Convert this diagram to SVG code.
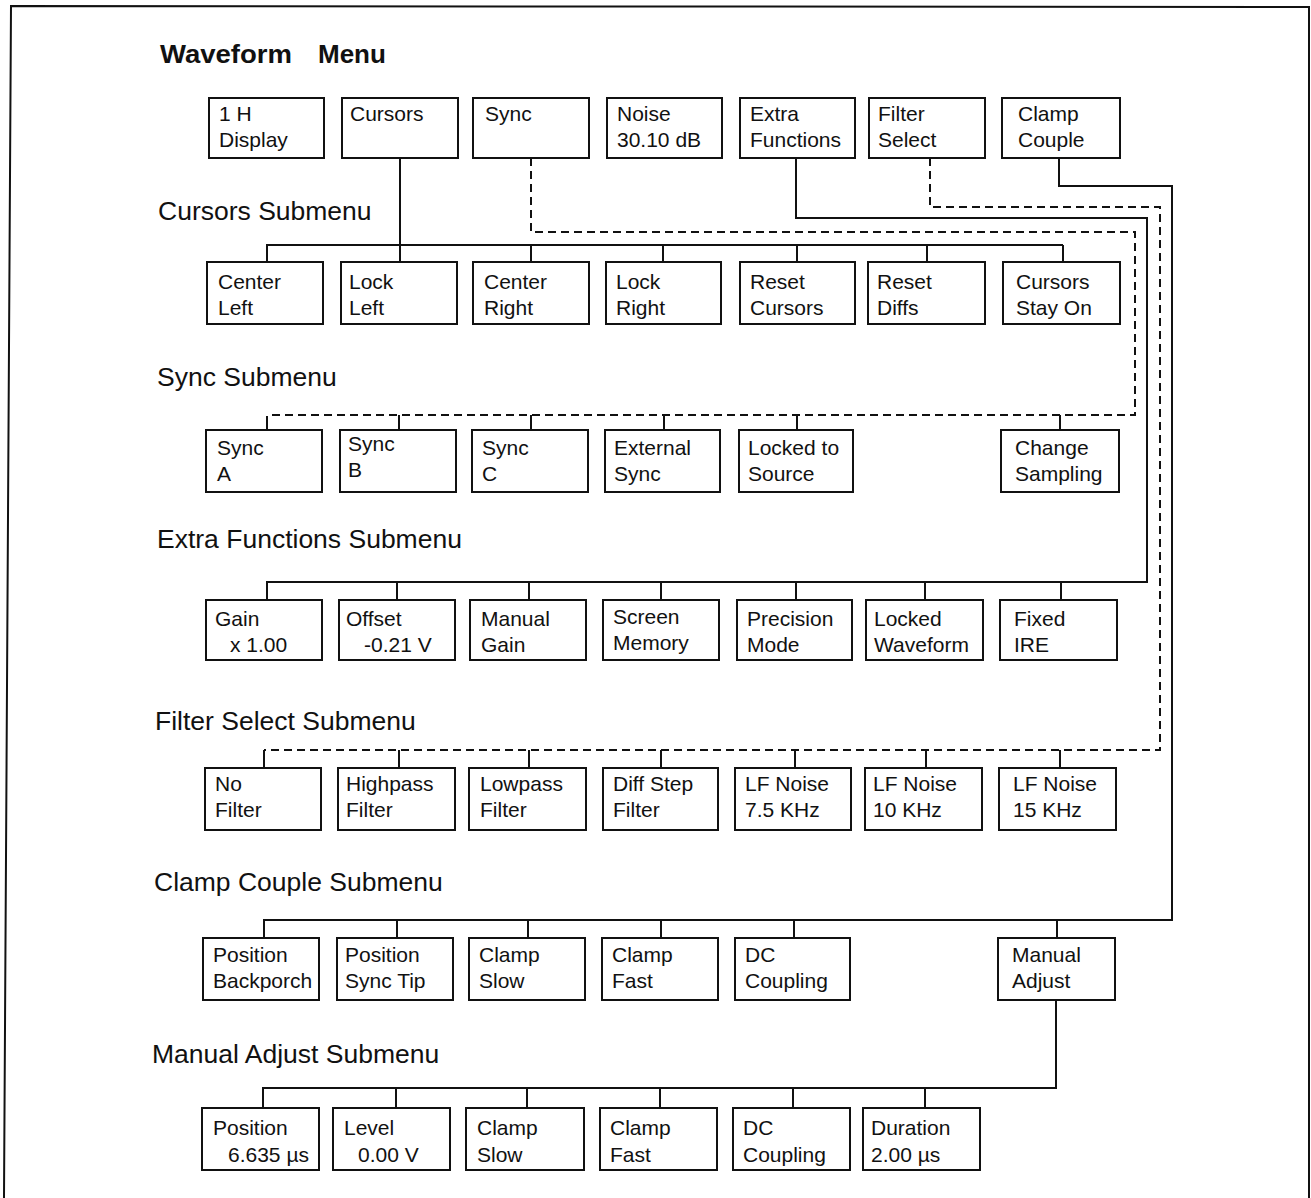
<svg xmlns="http://www.w3.org/2000/svg" width="1311" height="1198" viewBox="0 0 1311 1198">
<style>
  .bg{fill:#fff}
  .frame{fill:none;stroke:#111;stroke-width:2}
  .box{fill:#fff;stroke:#111;stroke-width:2}
  .t{font-family:"Liberation Sans",Arial,Helvetica,sans-serif;font-size:21px;fill:#111}
  .h{font-family:"Liberation Sans",Arial,Helvetica,sans-serif;font-size:26.5px;fill:#111}
  .title{font-family:"Liberation Sans",Arial,Helvetica,sans-serif;font-size:26px;font-weight:bold;fill:#111}
  .solid{fill:none;stroke:#111;stroke-width:2}
  .dash{fill:none;stroke:#111;stroke-width:2;stroke-dasharray:8 5}
</style>
<rect class="bg" x="0" y="0" width="1311" height="1198"/>
<path class="frame" d="M4,1198 L11,6 L1309,7 L1309,1198"/>

<text class="title" x="160" y="63"><tspan textLength="132" lengthAdjust="spacingAndGlyphs">Waveform</tspan><tspan x="318">Menu</tspan></text>
<text class="h" x="158" y="220">Cursors Submenu</text>
<text class="h" x="157" y="386">Sync Submenu</text>
<text class="h" x="157" y="548">Extra Functions Submenu</text>
<text class="h" x="155" y="730">Filter Select Submenu</text>
<text class="h" x="154" y="891">Clamp Couple Submenu</text>
<text class="h" x="152" y="1063">Manual Adjust Submenu</text>

<g id="connectors">
  <!-- Cursors -->
  <path class="solid" d="M400,158 L400,262"/>
  <path class="solid" d="M267,262 L267,245 L1063,245"/>
  <path class="solid" d="M531,245 V262 M663,245 V262 M797,245 V262 M927,245 V262 M1063,245 V262"/>
  <!-- Sync (dashed) -->
  <path class="dash" d="M531,158 L531,232 L1135,232 L1135,415 L267,415"/>
  <path class="solid" d="M267,416 V430 M399,415 V430 M531,415 V430 M664,415 V430 M797,415 V430 M1060,415 V430"/>
  <!-- Extra Functions -->
  <path class="solid" d="M796,158 L796,218 L1147,218 L1147,582 L267,582 L267,600"/>
  <path class="solid" d="M397,582 V600 M529,582 V600 M661,582 V600 M796,582 V600 M925,582 V600 M1061,582 V600"/>
  <!-- Filter Select (dashed) -->
  <path class="dash" d="M930,158 L930,207 L1160,207 L1160,750 L264,750"/>
  <path class="solid" d="M264,750 V768 M399,750 V768 M529,750 V768 M661,750 V768 M795,750 V768 M926,750 V768 M1060,750 V768"/>
  <!-- Clamp Couple -->
  <path class="solid" d="M1059,158 L1059,186 L1172,186 L1172,920 L264,920 L264,938"/>
  <path class="solid" d="M397,920 V938 M528,920 V938 M661,920 V938 M794,920 V938 M1057,920 V938"/>
  <!-- Manual Adjust -->
  <path class="solid" d="M1056,1000 L1056,1088 L263,1088 L263,1108"/>
  <path class="solid" d="M396,1088 V1108 M527,1088 V1108 M660,1088 V1108 M793,1088 V1108 M925,1088 V1108"/>
</g>

<!-- Row 1: Waveform Menu -->
<g id="n-1h-display"><rect class="box" x="209" y="98" width="115" height="60"/><text class="t" x="219" y="121">1 H</text><text class="t" x="219" y="147">Display</text></g>
<g id="n-cursors"><rect class="box" x="342" y="98" width="116" height="60"/><text class="t" x="350" y="121">Cursors</text></g>
<g id="n-sync"><rect class="box" x="473" y="98" width="116" height="60"/><text class="t" x="485" y="121">Sync</text></g>
<g id="n-noise"><rect class="box" x="607" y="98" width="115" height="60"/><text class="t" x="617" y="121">Noise</text><text class="t" x="617" y="147">30.10 dB</text></g>
<g id="n-extra-functions"><rect class="box" x="740" y="98" width="115" height="60"/><text class="t" x="750" y="121">Extra</text><text class="t" x="750" y="147">Functions</text></g>
<g id="n-filter-select"><rect class="box" x="869" y="98" width="116" height="60"/><text class="t" x="878" y="121">Filter</text><text class="t" x="878" y="147">Select</text></g>
<g id="n-clamp-couple"><rect class="box" x="1002" y="98" width="118" height="60"/><text class="t" x="1018" y="121">Clamp</text><text class="t" x="1018" y="147">Couple</text></g>

<!-- Row 2: Cursors Submenu -->
<g id="n-center-left"><rect class="box" x="207" y="262" width="116" height="62"/><text class="t" x="218" y="289">Center</text><text class="t" x="218" y="315">Left</text></g>
<g id="n-lock-left"><rect class="box" x="341" y="262" width="116" height="62"/><text class="t" x="349" y="289">Lock</text><text class="t" x="349" y="315">Left</text></g>
<g id="n-center-right"><rect class="box" x="473" y="262" width="116" height="62"/><text class="t" x="484" y="289">Center</text><text class="t" x="484" y="315">Right</text></g>
<g id="n-lock-right"><rect class="box" x="606" y="262" width="115" height="62"/><text class="t" x="616" y="289">Lock</text><text class="t" x="616" y="315">Right</text></g>
<g id="n-reset-cursors"><rect class="box" x="740" y="262" width="115" height="62"/><text class="t" x="750" y="289">Reset</text><text class="t" x="750" y="315">Cursors</text></g>
<g id="n-reset-diffs"><rect class="box" x="868" y="262" width="117" height="62"/><text class="t" x="877" y="289">Reset</text><text class="t" x="877" y="315">Diffs</text></g>
<g id="n-cursors-stay-on"><rect class="box" x="1003" y="262" width="117" height="62"/><text class="t" x="1016" y="289">Cursors</text><text class="t" x="1016" y="315">Stay On</text></g>

<!-- Row 3: Sync Submenu -->
<g id="n-sync-a"><rect class="box" x="206" y="430" width="116" height="62"/><text class="t" x="217" y="455">Sync</text><text class="t" x="217" y="481">A</text></g>
<g id="n-sync-b"><rect class="box" x="340" y="430" width="116" height="62"/><text class="t" x="348" y="451">Sync</text><text class="t" x="348" y="477">B</text></g>
<g id="n-sync-c"><rect class="box" x="472" y="430" width="116" height="62"/><text class="t" x="482" y="455">Sync</text><text class="t" x="482" y="481">C</text></g>
<g id="n-external-sync"><rect class="box" x="605" y="430" width="115" height="62"/><text class="t" x="614" y="455">External</text><text class="t" x="614" y="481">Sync</text></g>
<g id="n-locked-to-source"><rect class="box" x="739" y="430" width="114" height="62"/><text class="t" x="748" y="455">Locked to</text><text class="t" x="748" y="481">Source</text></g>
<g id="n-change-sampling"><rect class="box" x="1001" y="430" width="118" height="62"/><text class="t" x="1015" y="455">Change</text><text class="t" x="1015" y="481">Sampling</text></g>

<!-- Row 4: Extra Functions Submenu -->
<g id="n-gain"><rect class="box" x="206" y="600" width="116" height="60"/><text class="t" x="215" y="626">Gain</text><text class="t" x="230" y="652">x 1.00</text></g>
<g id="n-offset"><rect class="box" x="339" y="600" width="116" height="60"/><text class="t" x="346" y="626">Offset</text><text class="t" x="364" y="652">-0.21 V</text></g>
<g id="n-manual-gain"><rect class="box" x="470" y="600" width="116" height="60"/><text class="t" x="481" y="626">Manual</text><text class="t" x="481" y="652">Gain</text></g>
<g id="n-screen-memory"><rect class="box" x="603" y="600" width="116" height="60"/><text class="t" x="613" y="624">Screen</text><text class="t" x="613" y="650">Memory</text></g>
<g id="n-precision-mode"><rect class="box" x="737" y="600" width="115" height="60"/><text class="t" x="747" y="626">Precision</text><text class="t" x="747" y="652">Mode</text></g>
<g id="n-locked-waveform"><rect class="box" x="866" y="600" width="117" height="60"/><text class="t" x="874" y="626">Locked</text><text class="t" x="874" y="652">Waveform</text></g>
<g id="n-fixed-ire"><rect class="box" x="1000" y="600" width="117" height="60"/><text class="t" x="1014" y="626">Fixed</text><text class="t" x="1014" y="652">IRE</text></g>

<!-- Row 5: Filter Select Submenu -->
<g id="n-no-filter"><rect class="box" x="205" y="768" width="116" height="62"/><text class="t" x="215" y="791">No</text><text class="t" x="215" y="817">Filter</text></g>
<g id="n-highpass-filter"><rect class="box" x="338" y="768" width="117" height="62"/><text class="t" x="346" y="791">Highpass</text><text class="t" x="346" y="817">Filter</text></g>
<g id="n-lowpass-filter"><rect class="box" x="469" y="768" width="117" height="62"/><text class="t" x="480" y="791">Lowpass</text><text class="t" x="480" y="817">Filter</text></g>
<g id="n-diff-step-filter"><rect class="box" x="603" y="768" width="115" height="62"/><text class="t" x="613" y="791">Diff Step</text><text class="t" x="613" y="817">Filter</text></g>
<g id="n-lf-noise-7-5"><rect class="box" x="735" y="768" width="116" height="62"/><text class="t" x="745" y="791">LF Noise</text><text class="t" x="745" y="817">7.5 KHz</text></g>
<g id="n-lf-noise-10"><rect class="box" x="865" y="768" width="117" height="62"/><text class="t" x="873" y="791">LF Noise</text><text class="t" x="873" y="817">10 KHz</text></g>
<g id="n-lf-noise-15"><rect class="box" x="999" y="768" width="117" height="62"/><text class="t" x="1013" y="791">LF Noise</text><text class="t" x="1013" y="817">15 KHz</text></g>

<!-- Row 6: Clamp Couple Submenu -->
<g id="n-position-backporch"><rect class="box" x="203" y="938" width="116" height="62"/><text class="t" x="213" y="962">Position</text><text class="t" x="213" y="988">Backporch</text></g>
<g id="n-position-sync-tip"><rect class="box" x="337" y="938" width="116" height="62"/><text class="t" x="345" y="962">Position</text><text class="t" x="345" y="988">Sync Tip</text></g>
<g id="n-clamp-slow"><rect class="box" x="469" y="938" width="116" height="62"/><text class="t" x="479" y="962">Clamp</text><text class="t" x="479" y="988">Slow</text></g>
<g id="n-clamp-fast"><rect class="box" x="602" y="938" width="116" height="62"/><text class="t" x="612" y="962">Clamp</text><text class="t" x="612" y="988">Fast</text></g>
<g id="n-dc-coupling"><rect class="box" x="735" y="938" width="115" height="62"/><text class="t" x="745" y="962">DC</text><text class="t" x="745" y="988">Coupling</text></g>
<g id="n-manual-adjust"><rect class="box" x="998" y="938" width="117" height="62"/><text class="t" x="1012" y="962">Manual</text><text class="t" x="1012" y="988">Adjust</text></g>

<!-- Row 7: Manual Adjust Submenu -->
<g id="n-position-us"><rect class="box" x="202" y="1108" width="117" height="62"/><text class="t" x="213" y="1135">Position</text><text class="t" x="228" y="1162">6.635 µs</text></g>
<g id="n-level"><rect class="box" x="333" y="1108" width="117" height="62"/><text class="t" x="344" y="1135">Level</text><text class="t" x="358" y="1162">0.00 V</text></g>
<g id="n-clamp-slow-2"><rect class="box" x="466" y="1108" width="118" height="62"/><text class="t" x="477" y="1135">Clamp</text><text class="t" x="477" y="1162">Slow</text></g>
<g id="n-clamp-fast-2"><rect class="box" x="600" y="1108" width="117" height="62"/><text class="t" x="610" y="1135">Clamp</text><text class="t" x="610" y="1162">Fast</text></g>
<g id="n-dc-coupling-2"><rect class="box" x="733" y="1108" width="117" height="62"/><text class="t" x="743" y="1135">DC</text><text class="t" x="743" y="1162">Coupling</text></g>
<g id="n-duration"><rect class="box" x="863" y="1108" width="117" height="62"/><text class="t" x="871" y="1135">Duration</text><text class="t" x="871" y="1162">2.00 µs</text></g>
</svg>
